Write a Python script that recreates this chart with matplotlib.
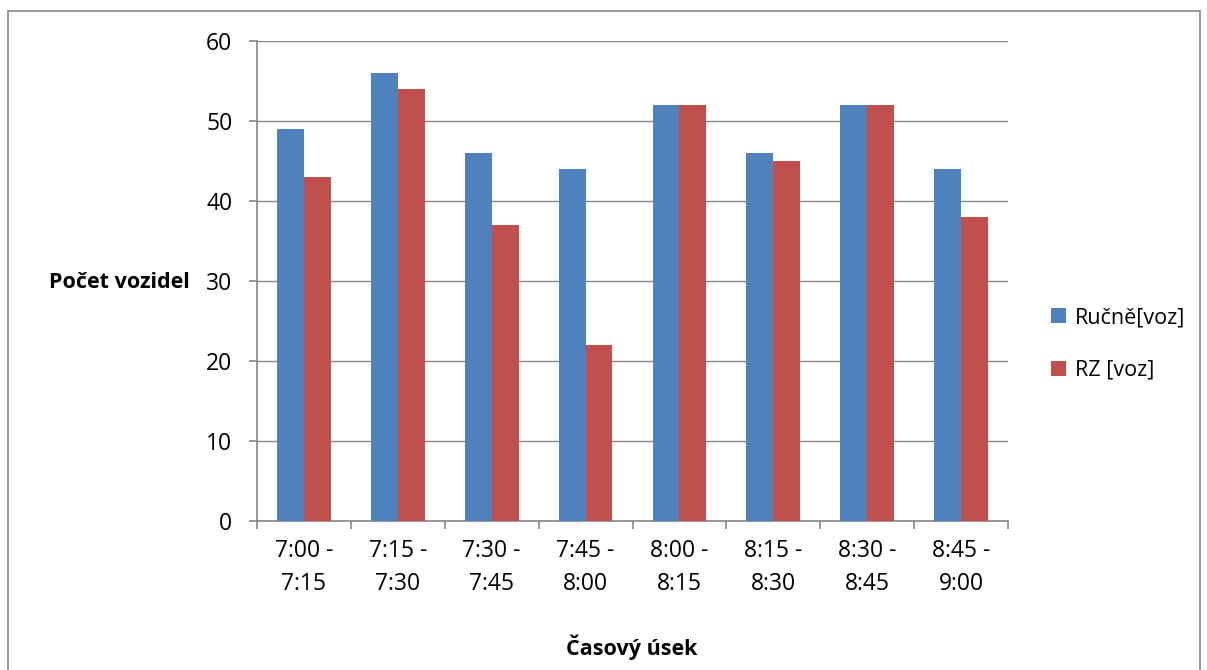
import matplotlib
matplotlib.use('Agg')
import matplotlib.pyplot as plt
import numpy as np
from matplotlib.patches import Rectangle

# ===== Data =====
intervals = ["7:00 -\n7:15", "7:15 -\n7:30", "7:30 -\n7:45", "7:45 -\n8:00",
             "8:00 -\n8:15", "8:15 -\n8:30", "8:30 -\n8:45", "8:45 -\n9:00"]
rucne = [49, 56, 46, 44, 52, 46, 52, 44]
rz = [43, 54, 37, 22, 52, 45, 52, 38]
series_names = ["Ručně[voz]", "RZ [voz]"]
y_ticks = [0, 10, 20, 30, 40, 50, 60]

BLUE = "#4F81BD"
RED = "#C0504D"
GRID = "#868686"
FS = 16.5

plt.rcParams['font.family'] = ['Open Sans', 'DejaVu Sans']

W, H = 1207, 670
fig = plt.figure(figsize=(W / 100, H / 100), dpi=100)

# outer chart frame
fig.patches.append(Rectangle((8 / W, -0.1), 1192 / W, 1.1 - 11 / H,
                             transform=fig.transFigure, fill=False,
                             edgecolor=GRID, linewidth=1.2))

ax = fig.add_axes([257 / W, 1 - 521 / H, 751 / W, 480 / H])

x = np.arange(len(intervals))
w = 0.2857
ax.bar(x - w / 2, rucne, w, color=BLUE, label=series_names[0], zorder=3)
ax.bar(x + w / 2, rz, w, color=RED, label=series_names[1], zorder=3)

ax.set_xlim(-0.5, len(intervals) - 0.5)
ax.set_ylim(0, 60)
ax.set_yticks(y_ticks)
ax.set_yticklabels([str(v) for v in y_ticks], fontsize=FS)
ax.grid(axis='y', color=GRID, linewidth=1.0, zorder=0)

# category labels between boundary ticks
ax.set_xticks(np.arange(len(intervals) + 1) - 0.5)
ax.set_xticklabels([])
ax.set_xticks(x, minor=True)
ax.set_xticklabels(intervals, minor=True, fontsize=FS, linespacing=1.5)
ax.tick_params(axis='x', which='minor', length=0, pad=13)
ax.tick_params(axis='x', which='major', length=5.8, width=1.2, color=GRID, direction='out')
ax.tick_params(axis='y', length=5.8, width=1.2, color=GRID, direction='out', pad=12)

for side in ['top', 'right']:
    ax.spines[side].set_visible(False)
for side in ['left', 'bottom']:
    ax.spines[side].set_color(GRID)
    ax.spines[side].set_linewidth(1.2)

fig.text(119 / W, 1 - 283 / H, "Počet vozidel", ha='center', va='center',
         fontsize=15.5, fontweight='bold')
fig.text(632 / W, 1 - 647 / H, "Časový úsek", ha='center', va='center',
         fontsize=15.5, fontweight='bold')

ax.legend(loc='center left', bbox_to_anchor=(1032 / W, 1 - 344 / H),
          bbox_transform=fig.transFigure, frameon=False, fontsize=15.5,
          handlelength=0.7, handleheight=0.7, handletextpad=0.4,
          labelspacing=1.45)

fig.savefig("out.png", dpi=100)
